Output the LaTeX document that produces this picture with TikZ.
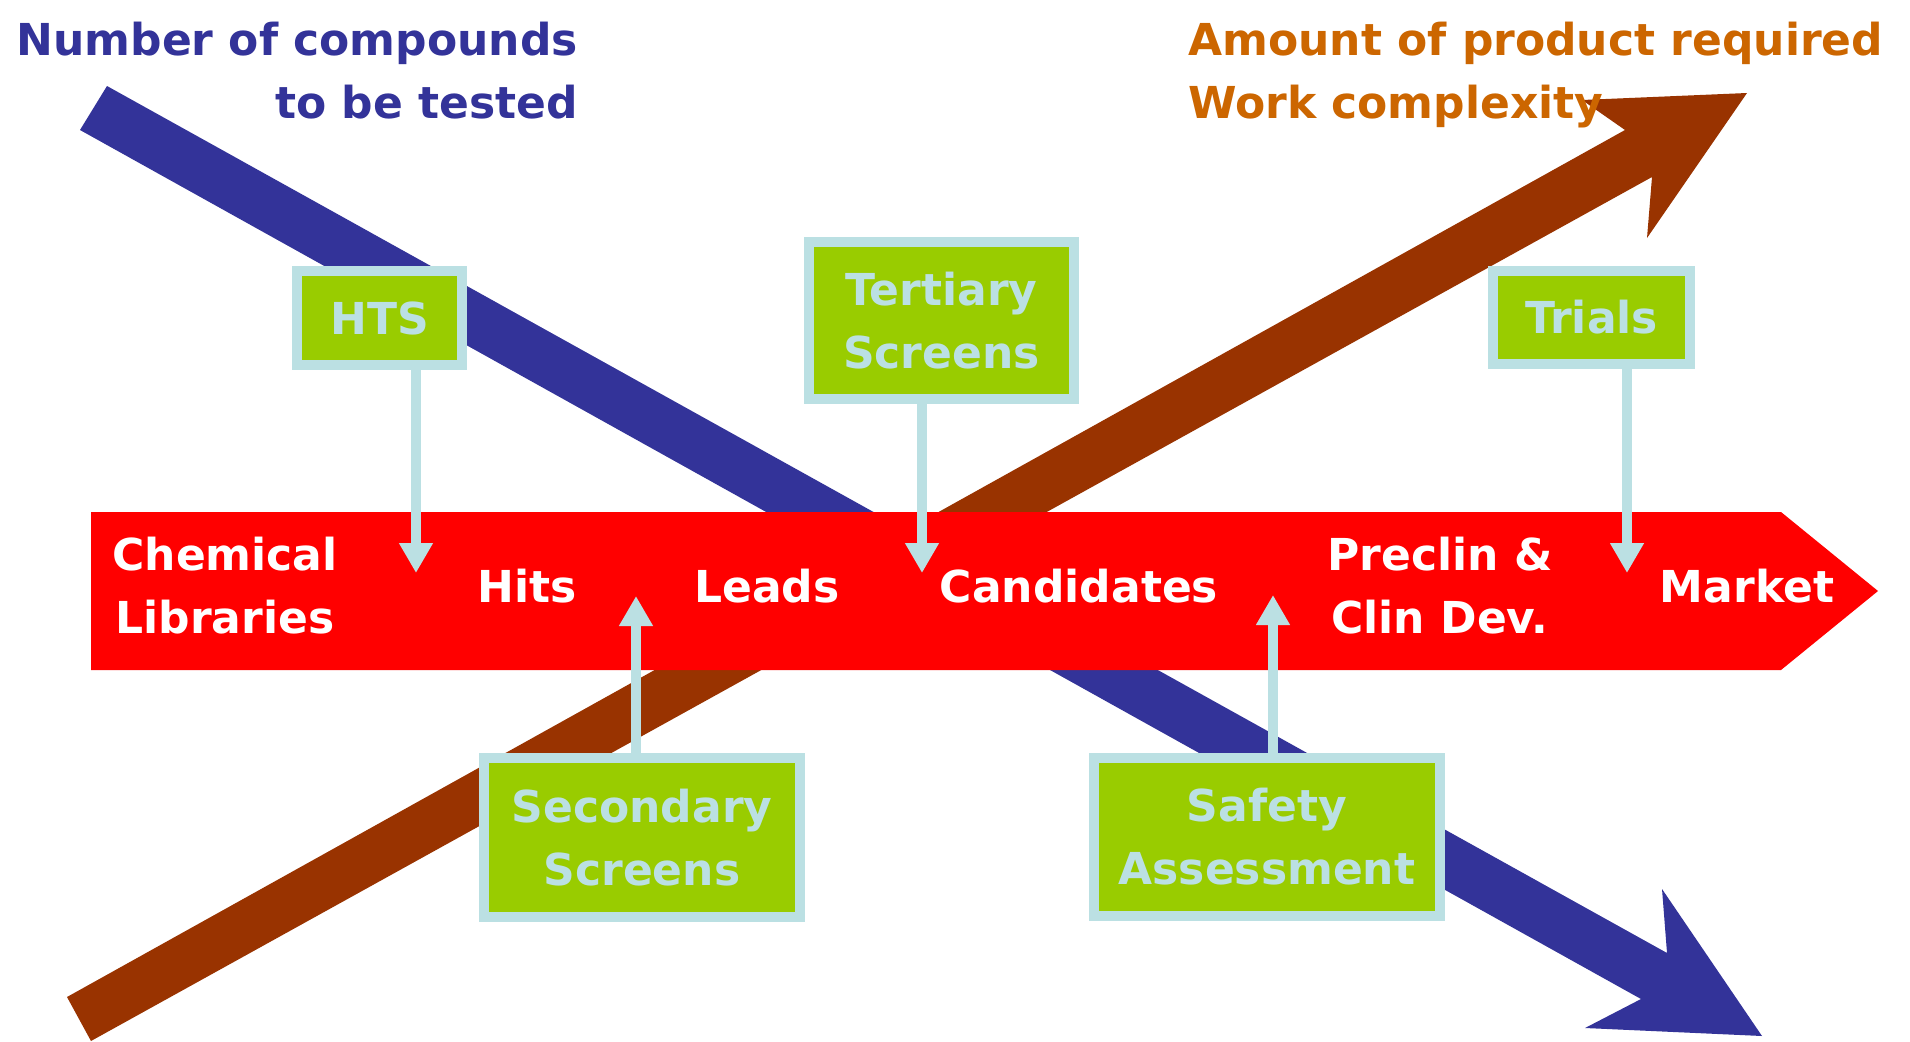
\documentclass[tikz,border=0pt]{standalone}
\usepackage{fontspec}
\setmainfont{DejaVu Sans}
\usetikzlibrary{arrows.meta}
\definecolor{navy}{HTML}{333399}
\definecolor{rust}{HTML}{993300}
\definecolor{bandred}{HTML}{FF0000}
\definecolor{lime}{HTML}{99CC00}
\definecolor{paleblue}{HTML}{BBE0E3}
\definecolor{titleorange}{HTML}{CC6600}
\begin{document}
\begin{tikzpicture}[x=1pt,y=-1pt,
  bigfont/.style={font=\bfseries\fontsize{44}{63}\selectfont},
  stagebox/.style={draw=paleblue, line width=10pt, fill=lime, text=paleblue, align=center, inner sep=0pt, bigfont},
  stagelabel/.style={text=white, align=center, inner sep=0pt, bigfont},
  pointer/.style={draw=paleblue, line width=10pt, -{Triangle[width=32pt,length=30pt]}}
]
\fill[white] (0,0) rectangle (1910,1041);
\useasboundingbox (0,0) rectangle (1910,1041);
% big trend arrows
\fill[navy] (107,86) -- (1667,953) -- (1662,889) -- (1762,1036) -- (1585,1028) -- (1641,999) -- (80,130) -- cycle;
\fill[rust] (67,997) -- (1625,130) -- (1582,100) -- (1747,93) -- (1647,238) -- (1652,177) -- (91,1041) -- cycle;
% red pipeline band
\fill[bandred] (91,512) -- (1781,512) -- (1878,591) -- (1781,670) -- (91,670) -- cycle;
% titles
\node[anchor=north east, inner sep=0pt, align=right, text=navy, bigfont] (numtitle) at (578,22) {Number of compounds\\to be tested};
\node[anchor=north west, inner sep=0pt, align=left, text=titleorange, bigfont] (amttitle) at (1188,22) {Amount of product required\\Work complexity};
% stage labels
\node[stagelabel] (chem) at (225,586) {Chemical\\Libraries};
\node[stagelabel] (hits) at (527,586) {Hits};
\node[stagelabel] (leads) at (767,586) {Leads};
\node[stagelabel] (cand) at (1079,586) {Candidates};
\node[stagelabel] (precl) at (1440,586) {Preclin \&\\Clin Dev.};
\node[stagelabel] (market) at (1747,586) {Market};
% boxes
\node[stagebox, minimum width=165pt, minimum height=94pt] (hts) at (379.5,318) {HTS};
\node[stagebox, minimum width=265pt, minimum height=157pt] (tert) at (941.5,320.5) {Tertiary\\Screens};
\node[stagebox, minimum width=197pt, minimum height=93pt] (trials) at (1591.5,317.5) {Trials};
\node[stagebox, minimum width=316pt, minimum height=159pt] (sec) at (642,837.5) {Secondary\\Screens};
\node[stagebox, minimum width=346pt, minimum height=158pt] (safety) at (1267,837) {Safety\\Assessment};
% pointers
\coordinate (htsTip) at (416,573);
\coordinate (tertTip) at (922,573);
\coordinate (trialsTip) at (1627,573);
\coordinate (secTip) at (636,596);
\coordinate (safetyTip) at (1273,595);
\draw[pointer] (hts.south -| htsTip) -- (htsTip);
\draw[pointer] (tert.south -| tertTip) -- (tertTip);
\draw[pointer] (trials.south -| trialsTip) -- (trialsTip);
\draw[pointer] (sec.north -| secTip) -- (secTip);
\draw[pointer] (safety.north -| safetyTip) -- (safetyTip);
\end{tikzpicture}
\end{document}
